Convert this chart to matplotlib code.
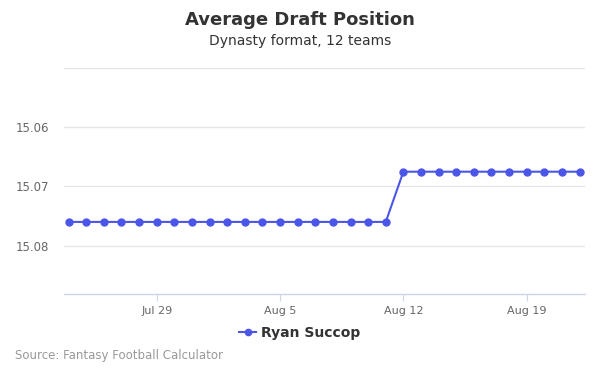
#!/usr/bin/env python3
# coding: utf-8

"""
Average Draft Position - Ryan Succop (Dynasty, 12 teams)
"""

import numpy as np
import pandas as pd
import matplotlib
matplotlib.use('Agg')
import matplotlib.pyplot as plt
import matplotlib.dates as mdates

plt.rcParams['font.family'] = ['DejaVu Sans']

# 数据
dates = pd.date_range('2019-07-24', '2019-08-22', freq='D')
adp = [15.076] * 19 + [15.0675] * 11
player = 'Ryan Succop'
tick_dates = pd.to_datetime(['2019-07-29', '2019-08-05', '2019-08-12', '2019-08-19'])
tick_labels = ['Jul 29', 'Aug 5', 'Aug 12', 'Aug 19']
y_ticks = [15.06, 15.07, 15.08]
y_grid = [15.05, 15.06, 15.07, 15.08]

line_color = '#4b56e8'

fig = plt.figure(figsize=(6, 3.75), dpi=100)
ax = fig.add_axes([64 / 600, 81 / 375, 521 / 600, 225.7 / 375])

ax.plot(dates, adp, color=line_color, linewidth=1.5, marker='o', markersize=5,
        label=player, zorder=3)

# 坐标轴范围 (y 轴反向)
ax.set_xlim(dates[0] - pd.Timedelta(hours=6.3), dates[-1] + pd.Timedelta(hours=7.4))
ax.set_ylim(15.0882, 15.05)

# 网格线
for g in y_grid:
    ax.axhline(g, color='#e6e6e6', linewidth=1, zorder=1)

ax.set_yticks(y_ticks)
ax.set_yticklabels([f'{v:.2f}' for v in y_ticks])
ax.set_xticks(tick_dates)
ax.set_xticklabels(tick_labels)

ax.tick_params(axis='y', length=0, labelsize=8.5, labelcolor='#666666', pad=11)
ax.tick_params(axis='x', length=5, color='#ccd6eb', labelsize=8, labelcolor='#666666', pad=4)

for side in ['top', 'right', 'left']:
    ax.spines[side].set_visible(False)
ax.spines['bottom'].set_color('#ccd6eb')
ax.spines['bottom'].set_linewidth(1)

# 标题
fig.text(0.5, 1 - 20 / 375, 'Average Draft Position', ha='center', va='center',
         fontsize=13, fontweight='bold', color='#333333')
fig.text(0.5, 1 - 41 / 375, 'Dynasty format, 12 teams', ha='center', va='center',
         fontsize=10, color='#333333')

# 图例
fig.legend(loc='center', bbox_to_anchor=(300 / 600, 1 - 333 / 375), frameon=False,
           prop={'size': 10, 'weight': 'bold'}, labelcolor='#333333',
           handlelength=1.2, handletextpad=0.4, markerscale=0.9)

# 数据来源
fig.text(15 / 600, 1 - 356 / 375, 'Source: Fantasy Football Calculator', ha='left', va='center',
         fontsize=8.5, color='#999999')

plt.savefig('out.png', dpi=100)
